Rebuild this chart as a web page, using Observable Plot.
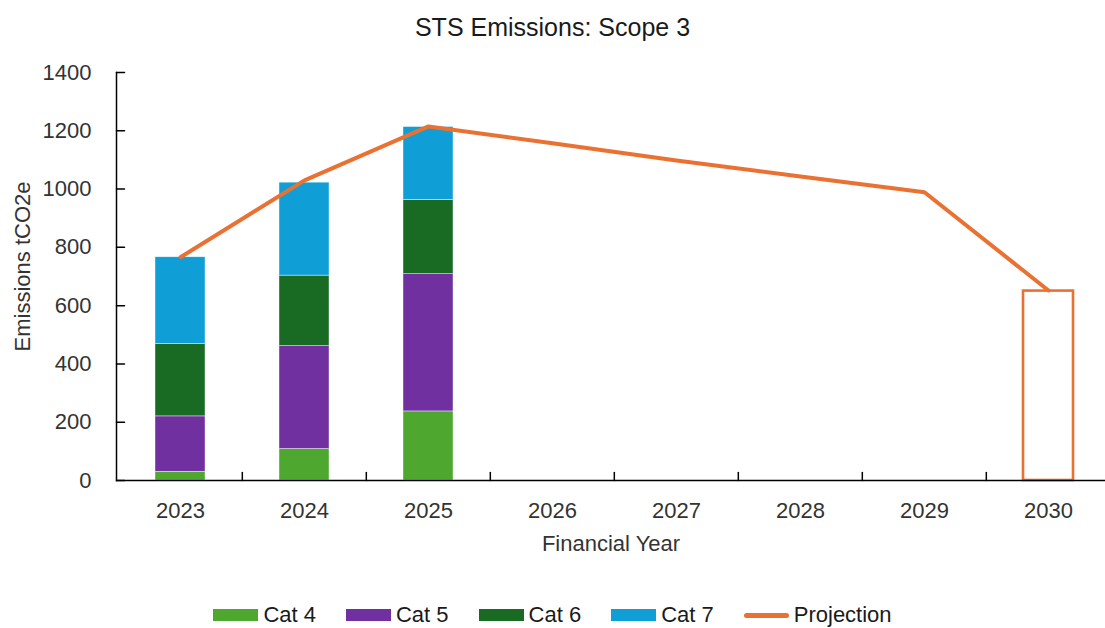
<!DOCTYPE html>
<html>
<head>
<meta charset="utf-8">
<script src="https://cdn.jsdelivr.net/npm/d3@7"></script>
<script src="https://cdn.jsdelivr.net/npm/@observablehq/plot@0.6"></script>
<style>
  body { margin: 0; background: #fff; font-family: "Liberation Sans", Arial, sans-serif; }
  #wrap { position: relative; width: 1105px; height: 628px; overflow: hidden; background: #fff; }
  #title { position: absolute; top: 12px; left: 0; width: 1105px; text-align: center; font-size: 25px; line-height: 30px; color: #1a1a1a; }
  #chart { position: absolute; top: 50px; left: 0; }
  #legend { position: absolute; top: 603px; left: 0; width: 1105px; height: 24px; display: flex; justify-content: center; align-items: center; font-size: 22px; color: #1a1a1a; }
  .item { display: flex; align-items: center; margin: 0 15px; }
  .sw { width: 45px; height: 12px; margin-right: 5px; }
  .ln { width: 45px; height: 5px; border-radius: 3px; margin-right: 5px; }
</style>
</head>
<body>
<div id="wrap">
  <div id="title"></div>
  <div id="chart"></div>
  <div id="legend"></div>
</div>
<script>
// ---- data ----
const titleText = "STS Emissions: Scope 3";
const xLabel = "Financial Year";
const yLabel = "Emissions tCO2e";
const years = ["2023", "2024", "2025", "2026", "2027", "2028", "2029", "2030"];
const actualYears = ["2023", "2024", "2025"];
const categories = ["Cat 4", "Cat 5", "Cat 6", "Cat 7"];
const categoryColors = ["#4EA72E", "#7030A0", "#196B24", "#0F9ED5"];
const cat4 = [30, 108, 237];
const cat5 = [190, 353, 471];
const cat6 = [248, 242, 255];
const cat7 = [298, 319, 250];
const projection = [766, 1030, 1215, 1157, 1098, 1043, 989, 652];
const projectionLabel = "Projection";
const projectionColor = "#E97132";
const targetYears = ["2030"];
const targetValues = [650];
const yTicks = [0, 200, 400, 600, 800, 1000, 1200, 1400];

// ---- tables built from the arrays ----
const catSeries = [cat4, cat5, cat6, cat7];
const barRows = [];
actualYears.forEach((yr, i) => {
  categories.forEach((c, j) => barRows.push({year: yr, cat: c, value: catSeries[j][i]}));
});
const lineRows = years.map((yr, i) => ({year: yr, value: projection[i]}));
const targetRows = targetYears.map((yr, i) => ({year: yr, value: targetValues[i]}));

// ---- layout ----
const W = 1105, H = 530;
const xRange = [116, 1111];
const step = (xRange[1] - xRange[0]) / years.length;
const tickShape = { draw(ctx, l) { ctx.moveTo(0, 0); ctx.lineTo(0, -l); } };
const textColor = "#333";

document.getElementById("title").textContent = titleText;

const plot = Plot.plot({
  width: W,
  height: H,
  marginTop: 22,
  marginBottom: 100,
  marginLeft: 116,
  marginRight: 0,
  style: { fontFamily: "'Liberation Sans', Arial, sans-serif", fontSize: "22px", color: textColor, background: "#fff" },
  x: { domain: years, range: xRange, paddingInner: 0.6, paddingOuter: 0.3, label: null },
  y: { domain: [0, 1400], label: null },
  color: { domain: categories, range: categoryColors },
  marks: [
    Plot.barY(barRows, { x: "year", y: "value", fill: "cat", order: categories, stroke: "#fff", strokeWidth: 0.6, strokeOpacity: 0.7 }),
    Plot.barY(targetRows, { x: "year", y: "value", fill: "none", stroke: projectionColor, strokeWidth: 2.6 }),
    Plot.line(lineRows, { x: "year", y: "value", stroke: projectionColor, strokeWidth: 4, strokeLinecap: "round", strokeLinejoin: "round" }),
    Plot.ruleY([0], { stroke: "#000", strokeWidth: 1.5 }),
    Plot.frame({ anchor: "left", stroke: "#000", strokeWidth: 1.5 }),
    Plot.vector(yTicks, { y: d => d, frameAnchor: "left", length: 8, rotate: 90, anchor: "start", shape: tickShape, stroke: "#000", strokeWidth: 1.5 }),
    Plot.vector(years.slice(1), { x: d => d, y: () => 0, dx: -step / 2, length: 8, rotate: 0, anchor: "start", shape: tickShape, stroke: "#000", strokeWidth: 1.5 }),
    Plot.axisY({ ticks: yTicks, tickFormat: d => String(d), tickSize: 0, tickPadding: 25, label: null, fontSize: 22, fill: textColor }),
    Plot.axisX({ tickSize: 0, tickPadding: 22, label: null, fontSize: 22, fill: textColor }),
    Plot.text([xLabel], { text: d => d, frameAnchor: "bottom", dy: 70, fontSize: 22, fill: textColor }),
    Plot.text([yLabel], { text: d => d, frameAnchor: "left", textAnchor: "middle", rotate: -90, dx: -94, dy: -10, fontSize: 22, fill: textColor })
  ]
});
document.getElementById("chart").appendChild(plot);

// ---- legend ----
const legend = document.getElementById("legend");
categories.forEach((c, j) => {
  const it = document.createElement("div");
  it.className = "item";
  const sw = document.createElement("div");
  sw.className = "sw";
  sw.style.background = categoryColors[j];
  const t = document.createElement("span");
  t.textContent = c;
  it.appendChild(sw); it.appendChild(t);
  legend.appendChild(it);
});
{
  const it = document.createElement("div");
  it.className = "item";
  const ln = document.createElement("div");
  ln.className = "ln";
  ln.style.background = projectionColor;
  const t = document.createElement("span");
  t.textContent = projectionLabel;
  it.appendChild(ln); it.appendChild(t);
  legend.appendChild(it);
}
</script>
</body>
</html>
